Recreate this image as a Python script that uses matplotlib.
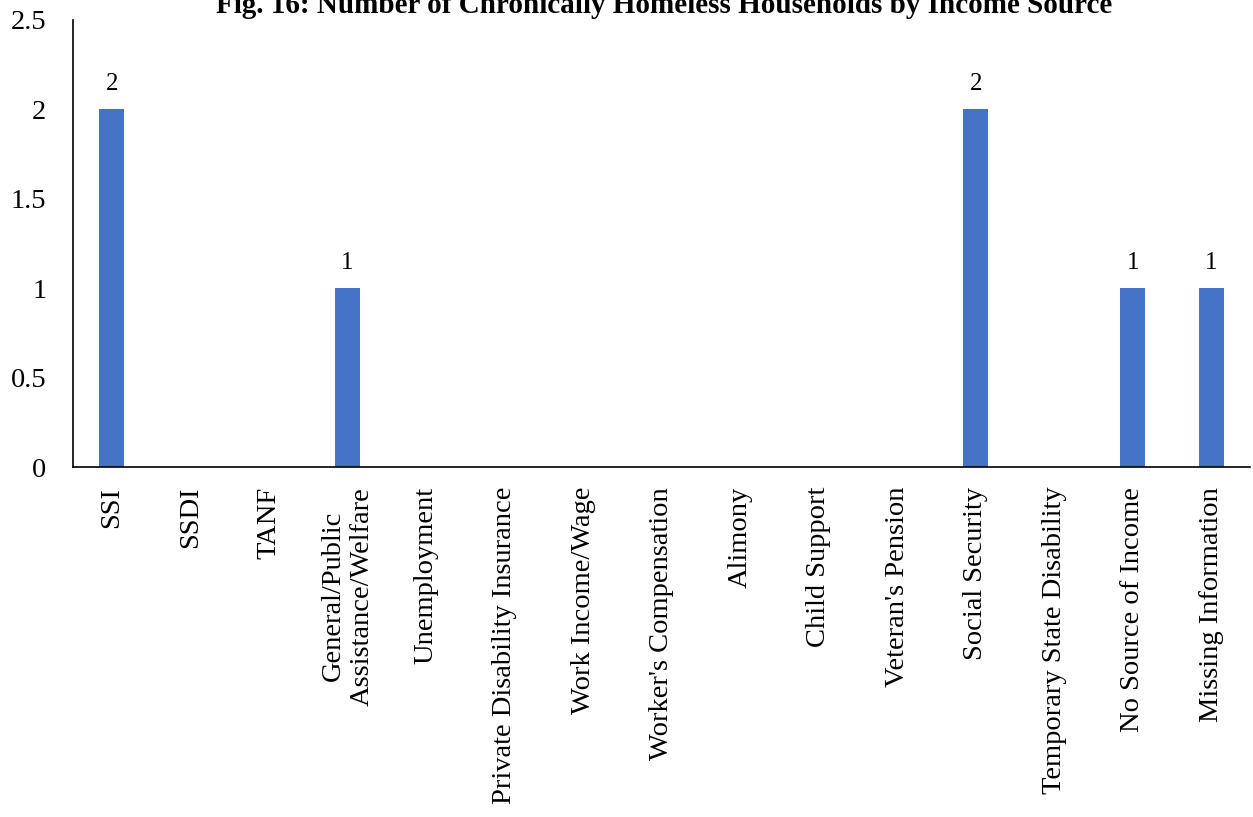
import numpy as np
import matplotlib
matplotlib.use('Agg')
from matplotlib import pyplot as plt

categories = ["SSI", "SSDI", "TANF", "General/Public\nAssistance/Welfare",
              "Unemployment", "Private Disability Insurance", "Work Income/Wage",
              "Worker's Compensation", "Alimony", "Child Support",
              "Veteran's Pension", "Social Security",
              "Temporary State Disability", "No Source of Income",
              "Missing Information"]
values = [2, 0, 0, 1, 0, 0, 0, 0, 0, 0, 0, 2, 0, 1, 1]

plt.rcParams['font.family'] = ['Liberation Serif', 'DejaVu Serif']

fig = plt.figure(figsize=(12.53, 8.17), dpi=100)
ax = fig.add_axes([0.058, 0.428, 0.94, 0.548])

x = np.arange(len(categories))
ax.bar(x, values, width=0.32, color='#4472C4')
for xi, v in zip(x, values):
    if v > 0:
        ax.text(xi, v + 0.08, str(v), ha='center', va='bottom', fontsize=18)

ax.set_xlim(-0.5, len(categories) - 0.5)
ax.set_ylim(0, 2.5)
ax.set_yticks([0, 0.5, 1, 1.5, 2, 2.5])
ax.set_yticklabels(['0', '0.5', '1', '1.5', '2', '2.5'], fontsize=20.5)
ax.set_xticks(x)
ax.set_xticklabels(categories, rotation=90, fontsize=20.5, va='top', ha='center',
                   linespacing=1.2)
ax.tick_params(axis='both', length=0)
ax.tick_params(axis='x', pad=14)
ax.tick_params(axis='y', pad=19)
for s in ['top', 'right']:
    ax.spines[s].set_visible(False)
ax.spines['left'].set_linewidth(1.2)
ax.spines['bottom'].set_linewidth(1.2)

fig.text(0.53, 0.993, 'Fig. 16: Number of Chronically Homeless Households by Income Source',
         ha='center', va='center', fontsize=21, fontweight='bold')

fig.savefig('out.png', dpi=100)
